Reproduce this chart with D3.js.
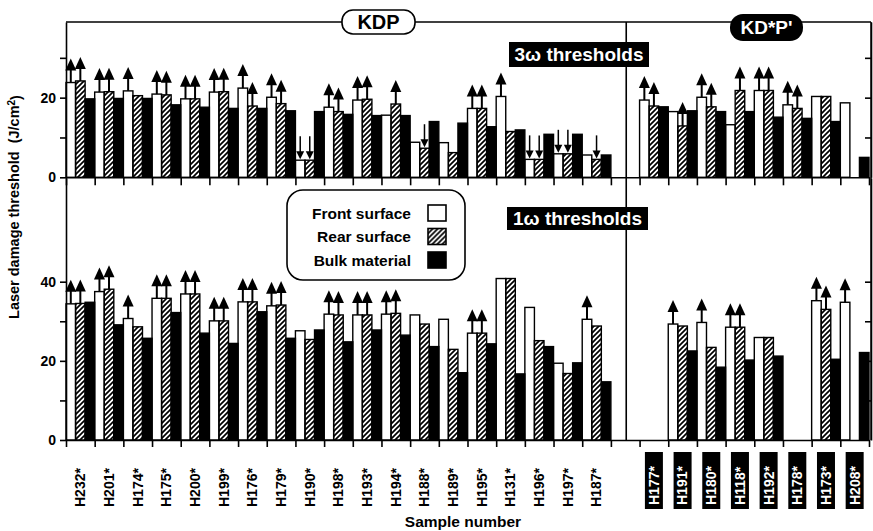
<!DOCTYPE html>
<html>
  <head>
    <title>Laser damage thresholds</title>
    <meta charset="utf-8">
    <script src="https://d3js.org/d3.v7.min.js"></script>
    <style>
    body { margin: 0; background: #fff; }
    svg text { font-family: "Liberation Sans", Arial, sans-serif; font-weight: bold; }
    </style>
  </head>
  <body>

    <div class="chart"></div>

    <script>

	// sample names (KDP, then KD*P)
	var kdpSamples = ["H232*", "H201*", "H174*", "H175*", "H200*", "H199*", "H176*", "H179*", "H190*", "H198*",
	                  "H193*", "H194*", "H188*", "H189*", "H195*", "H131*", "H196*", "H197*", "H187*"];
	var dkdpSamples = ["H177*", "H191*", "H180*", "H118*", "H192*", "H178*", "H173*", "H208*"];

	var seriesNames = ["Front surface", "Rear surface", "Bulk material"];

	// 3w thresholds (J/cm2), null = not measured
	var front3w = [23.8, 21.4, 21.7, 20.9, 19.7, 21.4, 22.4, 20.1, 4.3, 17.6, 19.4, 15.6, 8.8, 8.7, 17.3, 20.3, 4.5, 5.9, 5.6,
	               19.4, 16.5, 20.1, 13.2, 21.8, 18.2, 20.3, 18.7];
	var rear3w  = [24.2, 21.5, 20.5, 20.7, 19.7, 21.5, 17.9, 18.5, 4.3, 16.5, 19.6, 18.4, 7.3, 6.2, 17.3, 11.5, 4.5, 5.9, 4.5,
	               17.9, 12.9, 17.7, 21.8, 21.8, 17.3, 20.3, null];
	var bulk3w  = [19.7, 19.8, 19.8, 18.2, 17.6, 17.3, 17.3, 16.7, 16.5, 15.8, 15.5, 15.5, 14.0, 13.6, 12.7, 11.9, 10.8, 10.8, 5.6,
	               17.7, 16.7, 16.5, 16.5, 15.1, 14.8, 14.0, 5.0];
	// "u" = lower bound (arrow up), "d" = upper bound (arrow down)
	var front3wArrow = ["u","u","u","u","u","u","u","u","d","u","u","","","","u","u","d","d","",
	                    "u","","u","","u","u","",""];
	var rear3wArrow  = ["u","u","","u","u","u","u","u","d","u","u","u","d","","u","","d","d","d",
	                    "u","u","u","u","u","u","",""];

	// 1w thresholds (J/cm2)
	var front1w = [34.4, 37.5, 30.7, 35.8, 36.9, 30.1, 34.9, 33.9, 27.6, 31.8, 31.6, 31.8, 31.6, 30.5, 27.0, 40.8, 33.5, 19.4, 30.5,
	               null, 29.3, 29.7, 28.5, 25.9, null, 35.2, 34.8];
	var rear1w  = [34.5, 38.1, 28.6, 35.8, 36.9, 30.1, 34.9, 34.1, 25.4, 31.6, 31.6, 32.0, 29.3, 22.9, 27.0, 40.8, 25.1, 16.8, 28.8,
	               null, 28.8, 23.4, 28.5, 25.9, null, 33.0, null];
	var bulk1w  = [34.8, 29.1, 25.7, 32.2, 27.0, 24.4, 32.4, 25.7, 27.8, 24.8, 27.8, 26.5, 23.6, 17.0, 24.3, 16.7, 23.6, 19.5, 14.7,
	               null, 22.5, 18.4, 20.2, 21.2, null, 20.4, 22.1];
	var front1wArrow = ["u","u","u","u","u","u","u","u","","u","u","u","","","u","","","","u",
	                    "","u","u","u","","","u","u"];
	var rear1wArrow  = ["u","u","","u","u","u","u","u","","u","u","u","","","u","","","","",
	                    "","","","u","","","u",""];

	var topTicks = [0, 10, 20, 30];
	var bottomTicks = [0, 10, 20, 30, 40];

	var width = 873, height = 531;
	var left = 66, right = 869;

	var samples = kdpSamples.concat(dkdpSamples);
	var slots = kdpSamples.concat(["gap"], dkdpSamples);

	var xScale = d3.scaleBand().domain(slots).range([left, right]).padding(0);
	var xSub = d3.scaleBand().domain(seriesNames).range([0, xScale.bandwidth()]).padding(0);
	var xEdge = d3.scaleLinear().domain([0, slots.length]).range([left, right]);

	var yTop = d3.scaleLinear().domain([0, 39]).range([177.3, 22]);
	var yBot = d3.scaleLinear().domain([0, 66.2]).range([440, 178]);

	var svg = d3.select(".chart").append("svg").attr("width", width).attr("height", height);

	var defs = svg.append("defs");
	defs.append("pattern")
		.attr("id", "hatch")
		.attr("patternUnits", "userSpaceOnUse")
		.attr("width", 5).attr("height", 5)
		.append("path")
		.attr("d", "M-1,1 l2,-2 M0,5 l5,-5 M4,6 l2,-2")
		.attr("stroke", "#000").attr("stroke-width", 1.7);

	var fills = {"Front surface": "#fff", "Rear surface": "url(#hatch)", "Bulk material": "#000"};

	function rows(values, series, arrows) {
		var out = [];
		values.forEach(function(v, i) {
			if (v === null) return;
			out.push({sample: samples[i], series: series, value: v, arrow: arrows ? arrows[i] : ""});
		});
		return out;
	}

	function panel(y, front, rear, bulk, frontArrow, rearArrow) {
		var data = rows(front, seriesNames[0], frontArrow)
			.concat(rows(rear, seriesNames[1], rearArrow))
			.concat(rows(bulk, seriesNames[2], null));

		var g = svg.append("g");

		g.selectAll(".bar")
			.data(data)
			.enter()
			.append("rect")
			.attr("class", "bar")
			.attr("x", function(d) { return xScale(d.sample) + xSub(d.series); })
			.attr("width", xSub.bandwidth())
			.attr("y", function(d) { return y(d.value); })
			.attr("height", function(d) { return y(0) - y(d.value); })
			.attr("fill", function(d) { return fills[d.series]; })
			.attr("stroke", "#000")
			.attr("stroke-width", 1.4);

		var marked = data.filter(function(d) { return d.arrow; });

		// arrow stems
		g.selectAll(".stem")
			.data(marked)
			.enter()
			.append("line")
			.attr("x1", function(d) { return xScale(d.sample) + xSub(d.series) + xSub.bandwidth() / 2; })
			.attr("x2", function(d) { return xScale(d.sample) + xSub(d.series) + xSub.bandwidth() / 2; })
			.attr("y1", function(d) { return d.arrow == "u" ? y(d.value) : y(d.value) - 24; })
			.attr("y2", function(d) { return d.arrow == "u" ? y(d.value) - 13 : y(d.value) - 6; })
			.attr("stroke", "#000")
			.attr("stroke-width", function(d) { return d.arrow == "u" ? 2 : 1.5; });

		// arrow heads
		g.selectAll(".head")
			.data(marked)
			.enter()
			.append("path")
			.attr("d", function(d) {
				var cx = xScale(d.sample) + xSub(d.series) + xSub.bandwidth() / 2, cy = y(d.value);
				if (d.arrow == "u") return "M" + (cx - 5.5) + "," + (cy - 12) + "L" + cx + "," + (cy - 24) + "L" + (cx + 5.5) + "," + (cy - 12) + "Z";
				return "M" + (cx - 4) + "," + (cy - 9) + "L" + cx + "," + (cy - 1) + "L" + (cx + 4) + "," + (cy - 9) + "Z";
			})
			.attr("fill", "#000");
	}

	panel(yTop, front3w, rear3w, bulk3w, front3wArrow, rear3wArrow);
	panel(yBot, front1w, rear1w, bulk1w, front1wArrow, rear1wArrow);

	// frame
	var sepX = xScale("gap") + xScale.bandwidth() / 2 + 1;
	svg.append("line").attr("x1", left).attr("x2", 871).attr("y1", 22).attr("y2", 22).attr("stroke", "#000").attr("stroke-width", 1.6);
	svg.append("line").attr("x1", 871).attr("x2", 871).attr("y1", 22).attr("y2", 440).attr("stroke", "#000").attr("stroke-width", 1.4);
	svg.append("line").attr("x1", sepX).attr("x2", sepX).attr("y1", 22).attr("y2", 440).attr("stroke", "#000").attr("stroke-width", 1.6);

	// axes
	function styleAxis(sel) {
		sel.selectAll("path, line").attr("stroke", "#000").attr("stroke-width", 1.6);
		sel.selectAll("text").attr("font-size", "14px").attr("fill", "#000")
			.attr("font-family", "'Liberation Sans', Arial, sans-serif").attr("font-weight", "bold");
	}

	var labelFmt = function(d) { return d % 20 === 0 ? d : ""; };

	svg.append("g").attr("transform", "translate(" + left + ",0)")
		.call(d3.axisLeft(yTop).tickValues(topTicks).tickFormat(labelFmt).tickSize(6).tickSizeOuter(0).tickPadding(4))
		.call(styleAxis);
	svg.append("g").attr("transform", "translate(" + left + ",0)")
		.call(d3.axisLeft(yBot).tickValues(bottomTicks).tickFormat(labelFmt).tickSize(6).tickSizeOuter(0).tickPadding(4))
		.call(styleAxis);
	svg.append("g").attr("transform", "translate(871,0)")
		.call(d3.axisLeft(yTop).tickValues(topTicks.slice(1)).tickFormat("").tickSize(6).tickSizeOuter(0))
		.call(styleAxis);
	svg.append("g").attr("transform", "translate(871,0)")
		.call(d3.axisLeft(yBot).tickValues(bottomTicks.slice(1)).tickFormat("").tickSize(6).tickSizeOuter(0))
		.call(styleAxis);

	svg.append("g").attr("transform", "translate(0," + yTop(0) + ")")
		.call(d3.axisBottom(xEdge).tickValues(d3.range(0, slots.length + 1)).tickFormat("").tickSize(8).tickSizeOuter(0))
		.call(styleAxis);
	svg.append("g").attr("transform", "translate(0," + yBot(0) + ")")
		.call(d3.axisBottom(xEdge).tickValues(d3.range(0, slots.length + 1)).tickFormat("").tickSize(7).tickSizeOuter(0))
		.call(styleAxis);

	// sample labels
	var kdpLab = svg.selectAll(".kdp-label")
		.data(kdpSamples)
		.enter()
		.append("text")
		.attr("transform", function(d) { return "translate(" + (xScale(d) + xScale.bandwidth() / 2) + ",507) rotate(-90)"; })
		.attr("dy", "0.35em")
		.attr("font-size", "14px")
		.attr("fill", "#000")
		.text(function(d) { return d; });

	var dk = svg.selectAll(".dkdp-label")
		.data(dkdpSamples)
		.enter()
		.append("g")
		.attr("transform", function(d) { return "translate(" + (xScale(d) + xScale.bandwidth() / 2) + ",0)"; });
	dk.append("rect").attr("x", -9).attr("y", 452).attr("width", 18).attr("height", 57).attr("fill", "#000");
	dk.append("text")
		.attr("transform", "translate(0,505) rotate(-90)")
		.attr("dy", "0.35em")
		.attr("font-size", "14px")
		.attr("fill", "#fff")
		.text(function(d) { return d; });

	// group labels
	svg.append("rect").attr("x", 342).attr("y", 10).attr("width", 73).attr("height", 24).attr("rx", 11)
		.attr("fill", "#fff").attr("stroke", "#000").attr("stroke-width", 1.6);
	svg.append("text").attr("x", 378.5).attr("y", 22).attr("dy", "0.36em").attr("text-anchor", "middle")
		.attr("font-size", "20px").text("KDP");

	svg.append("rect").attr("x", 730).attr("y", 14).attr("width", 73).attr("height", 27).attr("rx", 13).attr("fill", "#000");
	svg.append("text").attr("x", 766.5).attr("y", 27.5).attr("dy", "0.36em").attr("text-anchor", "middle")
		.attr("font-size", "19px").attr("fill", "#fff").text("KD*P'");

	svg.append("rect").attr("x", 509).attr("y", 42).attr("width", 140).attr("height", 25).attr("fill", "#000");
	svg.append("text").attr("x", 579).attr("y", 54.5).attr("dy", "0.36em").attr("text-anchor", "middle")
		.attr("font-size", "19px").attr("fill", "#fff").text("3\u03c9 thresholds");

	svg.append("rect").attr("x", 507).attr("y", 207).attr("width", 141).attr("height", 23).attr("fill", "#000");
	svg.append("text").attr("x", 577.5).attr("y", 218.5).attr("dy", "0.36em").attr("text-anchor", "middle")
		.attr("font-size", "19px").attr("fill", "#fff").text("1\u03c9 thresholds");

	// legend
	var legendY = d3.scalePoint().domain(seriesNames).range([213, 260]);
	svg.append("rect").attr("x", 287).attr("y", 190).attr("width", 178).attr("height", 90).attr("rx", 16)
		.attr("fill", "#fff").attr("stroke", "#000").attr("stroke-width", 1.6);
	var leg = svg.selectAll(".legend")
		.data(seriesNames)
		.enter()
		.append("g")
		.attr("transform", function(d) { return "translate(0," + legendY(d) + ")"; });
	leg.append("text").attr("x", 411).attr("dy", "0.36em").attr("text-anchor", "end")
		.attr("font-size", "15.5px").text(function(d) { return d; });
	leg.append("rect").attr("x", 428).attr("y", -8).attr("width", 18).attr("height", 16)
		.attr("fill", function(d) { return fills[d]; }).attr("stroke", "#000").attr("stroke-width", 1.6);

	// axis titles
	var yt = svg.append("text").attr("transform", "translate(19,207) rotate(-90)")
		.attr("text-anchor", "middle").attr("font-size", "14.5px").style("white-space", "pre");
	yt.append("tspan").text("Laser damage threshold  (J/cm");
	yt.append("tspan").attr("dy", "-0.4em").attr("font-size", "10px").text("2");
	yt.append("tspan").attr("dy", "0.4em").text(")");

	svg.append("text").attr("x", 463).attr("y", 527).attr("text-anchor", "middle")
		.attr("font-size", "15.5px").text("Sample number");

    </script>

  </body>
</html>
